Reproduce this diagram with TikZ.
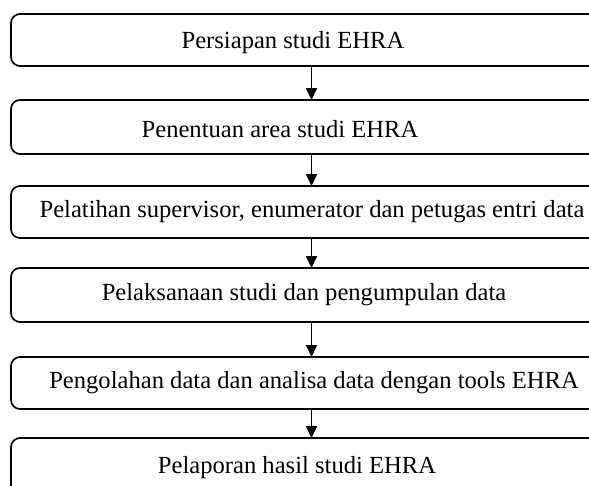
\documentclass[tikz,border=0pt]{standalone}
\usepackage{fontspec}
\setmainfont{Liberation Serif}
\usetikzlibrary{arrows.meta}

\tikzset{
  stage/.style={draw, rounded corners=9pt, line width=1.7pt,
    minimum width=589pt, inner sep=0pt, outer sep=0pt, anchor=north west},
  label/.style={anchor=base, inner sep=0pt,
    font=\fontsize{24.6}{29}\selectfont},
  flow/.style={line width=1.8pt, -{Triangle[length=12pt,width=11pt]}}
}

\begin{document}
\begin{tikzpicture}[x=1pt,y=-1pt]
  \useasboundingbox (0,0) rectangle (589,485);
  \clip (0,0) rectangle (589,485);
  \fill[white] (0,0) rectangle (589,485);

  % stage frames (the right edge runs off the page)
  \node[stage, minimum height=52pt] (b1) at (11,14) {};
  \node[stage, minimum height=54pt] (b2) at (11,100) {};
  \node[stage, minimum height=52pt] (b3) at (11,186) {};
  \node[stage, minimum height=54pt] (b4) at (11,268) {};
  \node[stage, minimum height=52pt] (b5) at (11,357) {};
  \node[stage, minimum height=62pt] (b6) at (11,438) {};

  % stage captions
  \node[label] (t1) at (293,48)  {Persiapan studi EHRA};
  \node[label] (t2) at (280,137) {Penentuan area studi EHRA};
  \node[label] (t3) at (312,217) {Pelatihan supervisor, enumerator dan petugas entri data};
  \node[label] (t4) at (304,300) {Pelaksanaan studi dan pengumpulan data};
  \node[label] (t5) at (314,388) {Pengolahan data dan analisa data dengan tools EHRA};
  \node[label] (t6) at (297,473) {Pelaporan hasil studi EHRA};

  % vertical axis of the connectors
  \coordinate (ax) at (311.5,0);

  \draw[flow] (b1.south -| ax) -- (b2.north -| ax);
  \draw[flow] (b2.south -| ax) -- (b3.north -| ax);
  \draw[flow] (b3.south -| ax) -- (b4.north -| ax);
  \draw[flow] (b4.south -| ax) -- (b5.north -| ax);
  \draw[flow] (b5.south -| ax) -- (b6.north -| ax);
\end{tikzpicture}
\end{document}
